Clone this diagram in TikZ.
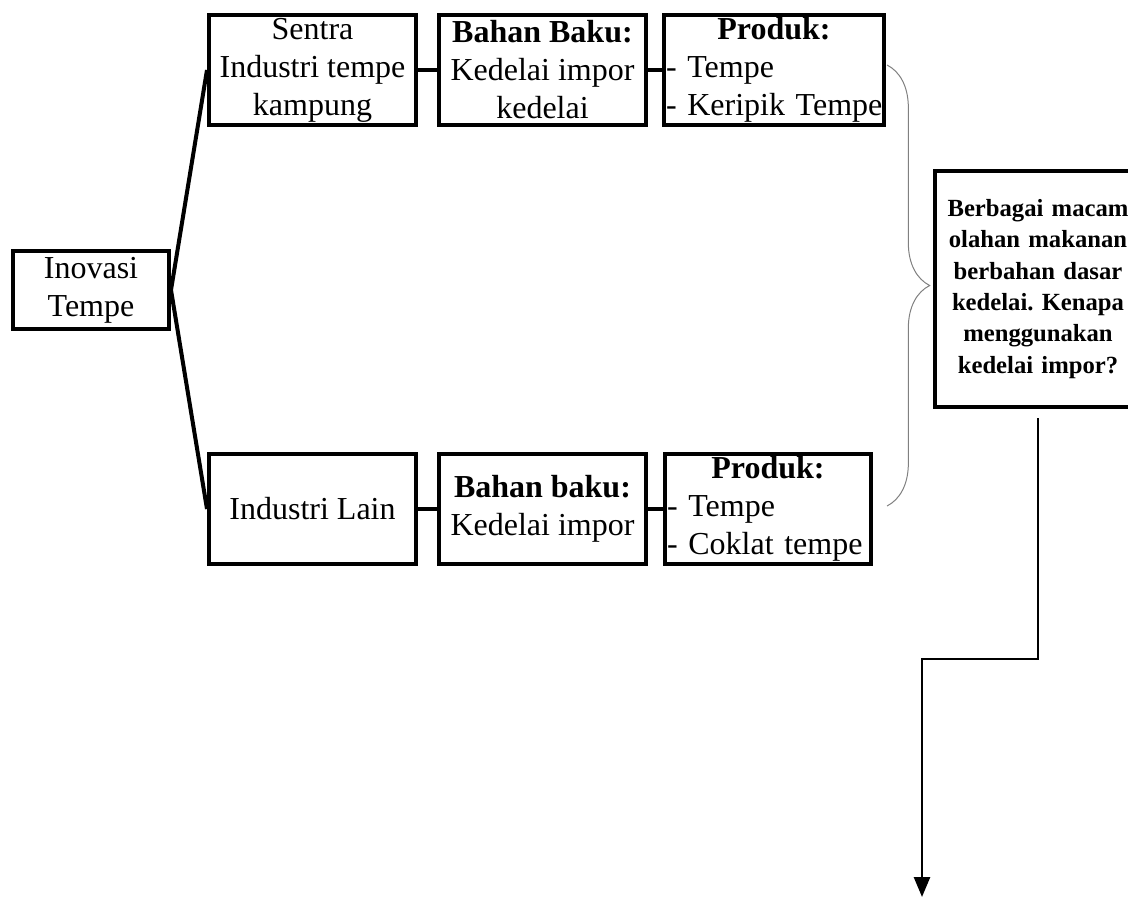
\documentclass[tikz,border=0pt]{standalone}
\usepackage{fontspec}
\setmainfont{Liberation Serif}
\usetikzlibrary{arrows.meta,decorations.pathreplacing}
\tikzset{
  kotak/.style={draw,line width=3pt,inner sep=1.5pt,minimum height=82.5pt,
    align=center,font=\fontsize{24}{28.5}\selectfont},
  hubung/.style={line width=3pt},
}
\newcommand{\judul}[2]{\makebox[#1][c]{\textbf{#2}}}
\frenchspacing

\begin{document}
\begin{tikzpicture}[x=0.75pt,y=-0.75pt]
    \useasboundingbox (0,0) rectangle (1128,899);

    \node[kotak,minimum width=117pt,minimum height=58.5pt] (inovasi) at (91,290) {Inovasi\\Tempe};

    % baris atas
    \node[kotak,minimum width=155.25pt] (sentra) at (312.5,70) {Sentra\\Industri tempe\\kampung};
    \node[kotak,minimum width=155.25pt] (bahanA) at (542.5,70) {\textbf{Bahan Baku:}\\Kedelai impor\\kedelai};
    \node[kotak,text width=162pt,align=left] (produkA) at (774,70) {\judul{162pt}{Produk:}\\- Tempe\\\mbox{- Keripik Tempe}};

    % baris bawah
    \node[kotak,minimum width=155.25pt] (industri) at (312.5,509) {Industri Lain};
    \node[kotak,minimum width=155.25pt] (bahanB) at (542.5,509) {\textbf{Bahan baku:}\\Kedelai impor};
    \node[kotak,text width=151.5pt,align=left] (produkB) at (768,509) {\judul{151.5pt}{Produk:}\\- Tempe\\\mbox{- Coklat tempe}};

    \node[kotak,font=\bfseries\fontsize{18.5}{23.5}\selectfont,text width=151.5pt,minimum height=177pt]
      (tanya) at (1038,289) {Berbagai macam\\olahan makanan\\berbahan dasar\\kedelai. Kenapa\\menggunakan\\kedelai impor?};

    \draw[hubung] (inovasi.east) -- (sentra.west);
    \draw[hubung] (inovasi.east) -- (industri.west);
    \draw[hubung] (sentra) -- (bahanA);
    \draw[hubung] (bahanA) -- (produkA);
    \draw[hubung] (industri) -- (bahanB);
    \draw[hubung] (bahanB) -- (produkB);

    \coordinate (kurungA) at (887,65);
    \coordinate (kurungB) at (887,506);
    \draw[gray,line width=0.75pt,decorate,decoration={brace,amplitude=32pt}] (kurungA) -- (kurungB);

    \coordinate (belokA) at (1038,659);
    \coordinate (belokB) at (922,659);
    \coordinate (ujung) at (922,897);
    \draw[line width=2pt,-{Triangle[width=12pt,length=15pt]}] ([yshift=-7pt]tanya.south) -- (belokA) -- (belokB) -- (ujung);
  \end{tikzpicture}
\end{document}
